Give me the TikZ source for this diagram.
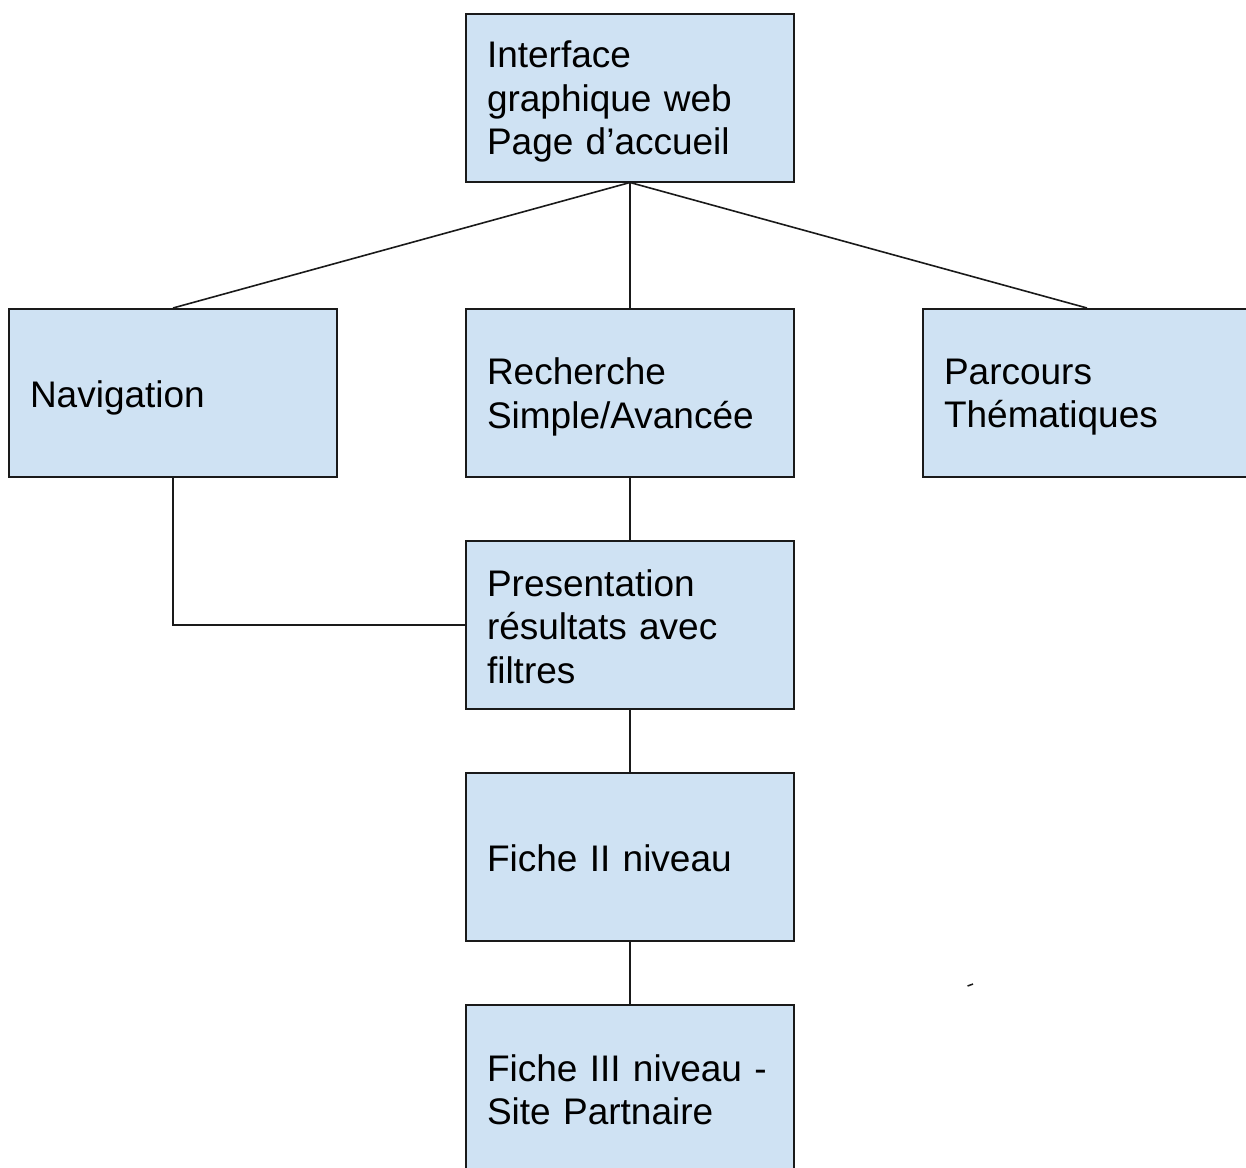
\documentclass[tikz,border=0pt]{standalone}
\usepackage{fontspec}
\setmainfont{Liberation Sans}
\definecolor{boxfill}{HTML}{CFE2F3}
\definecolor{boxline}{HTML}{1A1A1A}
\begin{document}
\begin{tikzpicture}[x=1pt,y=-1pt,
  box/.style={draw=boxline,fill=boxfill,line width=2pt,rectangle,
    minimum width=328pt,minimum height=168pt,inner sep=0pt},
  txt/.style={inner sep=0pt,text width=286pt,align=left,
    font=\fontsize{37}{43.5}\selectfont},
  link/.style={draw=boxline,line width=1.6pt}]
\useasboundingbox (0,0) rectangle (1246,1167);
\fill[white] (0,0) rectangle (1246,1167);

% boxes
\node[box] (home) at (630,97.5) {};
\node[box] (nav) at (173,393) {};
\node[box] (search) at (630,393) {};
\node[box] (theme) at (1087,393) {};
\node[box] (results) at (630,625) {};
\node[box] (lvl2) at (630,857) {};
\node[box] (lvl3) at (630,1089) {};

% box texts
\node[txt,yshift=-4pt] (home-t) at (home) {Interface\\graphique web\\Page d’accueil};
\node[txt,yshift=-4.5pt] (nav-t) at (nav) {Navigation};
\node[txt,yshift=-4pt] (search-t) at (search) {Recherche\\Simple/Avancée};
\node[txt,yshift=-4pt] (theme-t) at (theme) {Parcours\\Thématiques};
\node[txt,yshift=-1.5pt] (results-t) at (results) {Presentation\\résultats avec\\filtres};
\node[txt,yshift=-1pt] (lvl2-t) at (lvl2) {Fiche II niveau};
\node[txt,yshift=-1pt] (lvl3-t) at (lvl3) {Fiche III niveau -\\Site Partnaire};

% connectors
\draw[link] (home.south) -- (nav.north);
\draw[link] (home.south) -- (search.north);
\draw[link] (home.south) -- (theme.north);
\draw[link] (search.south) -- (results.north);
\draw[link] (nav.south) |- (results.west);
\draw[link] (results.south) -- (lvl2.north);
\draw[link] (lvl2.south) -- (lvl3.north);

% small stray stroke
\draw[boxline,line width=1.5pt] (967.5,986) -- (973,984);
\end{tikzpicture}
\end{document}
